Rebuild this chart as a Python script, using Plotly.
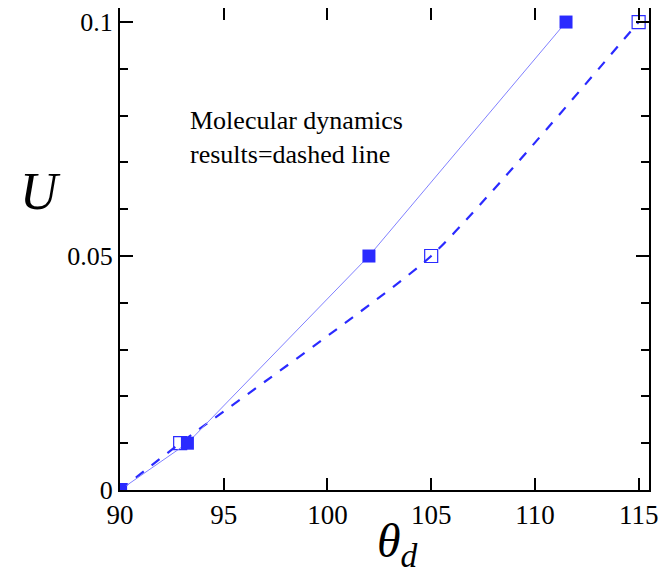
import plotly.graph_objects as go

# Data
theta_theory = [90, 93.25, 102, 111.5]
u_theory = [0, 0.01, 0.05, 0.1]
theta_md = [90, 92.9, 105, 115]
u_md = [0, 0.01, 0.05, 0.1]
x_ticks = [90, 95, 100, 105, 110, 115]
y_ticks = [0, 0.05, 0.1]
y_ticklabels = ["0", "0.05", "0.1"]

blue = "#2a2aff"
fig = go.Figure()
fig.add_trace(go.Scatter(x=theta_md, y=u_md, mode="lines", line=dict(color=blue, width=2.2, dash="10px,10px", shape="spline", smoothing=0.5), showlegend=False))
fig.add_trace(go.Scatter(x=theta_md, y=u_md, mode="markers", marker=dict(symbol="square-open", size=13, color=blue, line=dict(width=1.2, color=blue)), showlegend=False))
fig.add_trace(go.Scatter(x=theta_theory, y=u_theory, mode="lines+markers", line=dict(color="#8080ff", width=1), marker=dict(symbol="square", size=13, color=blue), showlegend=False))

font = "Liberation Serif, Times New Roman, serif"
fig.update_layout(
    width=660, height=570, margin=dict(l=112, r=19, t=0, b=88),
    paper_bgcolor="white", plot_bgcolor="white",
    font=dict(family=font, size=26, color="black"),
    xaxis=dict(range=[90, 115.5], tickvals=x_ticks, ticks="inside", ticklen=12, tickwidth=2, tickcolor="black",
               showline=True, linewidth=2, linecolor="black", mirror="ticks", showgrid=False, zeroline=False,
               tickfont=dict(size=27, family=font), automargin=False),
    yaxis=dict(range=[0, 0.103], tickvals=y_ticks, ticktext=y_ticklabels, ticks="inside", ticklen=13, tickwidth=2,
               tickcolor="black", showline=True, linewidth=2, linecolor="black", mirror="ticks", showgrid=False,
               zeroline=False, tickfont=dict(size=26, family=font), automargin=False,
               minor=dict(dtick=0.01, ticks="inside", ticklen=8, tickwidth=1.5, tickcolor="black", showgrid=False)),
    annotations=[
        dict(text="<i>U</i>", xref="paper", yref="paper", x=-0.151, y=0.62, showarrow=False,
             font=dict(size=52, family=font), xanchor="center", yanchor="middle"),
        dict(text="<i>θ<sub>d</sub></i>", xref="paper", yref="paper", x=0.525, y=-0.112, showarrow=False,
             font=dict(size=48, family=font), xanchor="center", yanchor="middle"),
        dict(text="Molecular dynamics<br>results=dashed line", xref="x", yref="y", x=93.3, y=0.0825, showarrow=False,
             font=dict(size=26, family=font), xanchor="left", yanchor="top", align="left"),
    ],
)
fig.write_html("out.html")
